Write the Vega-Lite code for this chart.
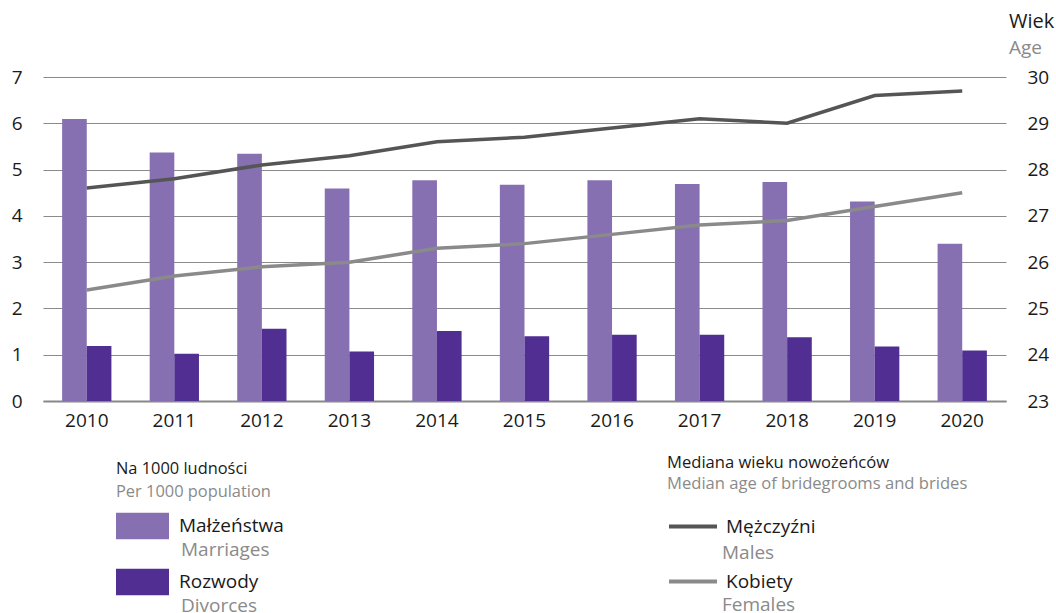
{
  "$schema": "https://vega.github.io/schema/vega-lite/v6.json",
  "width": 963,
  "height": 324,
  "autosize": {"type": "none"},
  "padding": {"left": 43, "top": 77, "right": 50, "bottom": 212},
  "background": "white",
  "config": {
    "font": "Open Sans",
    "view": {"stroke": null},
    "legend": {"padding": 0, "orient": "none", "direction": "vertical", "titleLimit": 0, "labelLimit": 0}
  },
  "title": {
    "text": "Wiek",
    "subtitle": "Age",
    "anchor": "start",
    "frame": "group",
    "dx": 966,
    "fontSize": 20,
    "fontWeight": "normal",
    "color": "#1a1a1a",
    "subtitleColor": "#8a8a8a",
    "subtitleFontSize": 19,
    "subtitlePadding": 7,
    "offset": 10
  },
  "datasets": {
    "rates": [
      {"year": "2010", "series": "Małżeństwa", "series_en": "Marriages", "value": 6.09},
      {"year": "2010", "series": "Rozwody", "series_en": "Divorces", "value": 1.19},
      {"year": "2011", "series": "Małżeństwa", "series_en": "Marriages", "value": 5.37},
      {"year": "2011", "series": "Rozwody", "series_en": "Divorces", "value": 1.02},
      {"year": "2012", "series": "Małżeństwa", "series_en": "Marriages", "value": 5.34},
      {"year": "2012", "series": "Rozwody", "series_en": "Divorces", "value": 1.56},
      {"year": "2013", "series": "Małżeństwa", "series_en": "Marriages", "value": 4.59},
      {"year": "2013", "series": "Rozwody", "series_en": "Divorces", "value": 1.07},
      {"year": "2014", "series": "Małżeństwa", "series_en": "Marriages", "value": 4.77},
      {"year": "2014", "series": "Rozwody", "series_en": "Divorces", "value": 1.51},
      {"year": "2015", "series": "Małżeństwa", "series_en": "Marriages", "value": 4.67},
      {"year": "2015", "series": "Rozwody", "series_en": "Divorces", "value": 1.40},
      {"year": "2016", "series": "Małżeństwa", "series_en": "Marriages", "value": 4.77},
      {"year": "2016", "series": "Rozwody", "series_en": "Divorces", "value": 1.43},
      {"year": "2017", "series": "Małżeństwa", "series_en": "Marriages", "value": 4.69},
      {"year": "2017", "series": "Rozwody", "series_en": "Divorces", "value": 1.43},
      {"year": "2018", "series": "Małżeństwa", "series_en": "Marriages", "value": 4.73},
      {"year": "2018", "series": "Rozwody", "series_en": "Divorces", "value": 1.38},
      {"year": "2019", "series": "Małżeństwa", "series_en": "Marriages", "value": 4.31},
      {"year": "2019", "series": "Rozwody", "series_en": "Divorces", "value": 1.18},
      {"year": "2020", "series": "Małżeństwa", "series_en": "Marriages", "value": 3.40},
      {"year": "2020", "series": "Rozwody", "series_en": "Divorces", "value": 1.09}
    ],
    "ages": [
      {"year": "2010", "series": "Mężczyźni", "series_en": "Males", "age": 27.6},
      {"year": "2011", "series": "Mężczyźni", "series_en": "Males", "age": 27.8},
      {"year": "2012", "series": "Mężczyźni", "series_en": "Males", "age": 28.1},
      {"year": "2013", "series": "Mężczyźni", "series_en": "Males", "age": 28.3},
      {"year": "2014", "series": "Mężczyźni", "series_en": "Males", "age": 28.6},
      {"year": "2015", "series": "Mężczyźni", "series_en": "Males", "age": 28.7},
      {"year": "2016", "series": "Mężczyźni", "series_en": "Males", "age": 28.9},
      {"year": "2017", "series": "Mężczyźni", "series_en": "Males", "age": 29.1},
      {"year": "2018", "series": "Mężczyźni", "series_en": "Males", "age": 29.0},
      {"year": "2019", "series": "Mężczyźni", "series_en": "Males", "age": 29.6},
      {"year": "2020", "series": "Mężczyźni", "series_en": "Males", "age": 29.7},
      {"year": "2010", "series": "Kobiety", "series_en": "Females", "age": 25.4},
      {"year": "2011", "series": "Kobiety", "series_en": "Females", "age": 25.7},
      {"year": "2012", "series": "Kobiety", "series_en": "Females", "age": 25.9},
      {"year": "2013", "series": "Kobiety", "series_en": "Females", "age": 26.0},
      {"year": "2014", "series": "Kobiety", "series_en": "Females", "age": 26.3},
      {"year": "2015", "series": "Kobiety", "series_en": "Females", "age": 26.4},
      {"year": "2016", "series": "Kobiety", "series_en": "Females", "age": 26.6},
      {"year": "2017", "series": "Kobiety", "series_en": "Females", "age": 26.8},
      {"year": "2018", "series": "Kobiety", "series_en": "Females", "age": 26.9},
      {"year": "2019", "series": "Kobiety", "series_en": "Females", "age": 27.2},
      {"year": "2020", "series": "Kobiety", "series_en": "Females", "age": 27.5}
    ]
  },
  "layer": [
    {
      "data": {"name": "rates"},
      "mark": {"type": "bar"},
      "encoding": {
        "x": {
          "field": "year", "type": "ordinal",
          "scale": {"paddingInner": 0.437, "paddingOuter": 0.2185},
          "axis": {
            "title": null, "labelAngle": 0, "ticks": false, "grid": false,
            "domain": true, "domainColor": "#888888", "domainWidth": 2,
            "labelFontSize": 19, "labelColor": "#1a1a1a", "labelPadding": 10
          }
        },
        "xOffset": {"field": "series", "sort": ["Małżeństwa", "Rozwody"]},
        "y": {
          "field": "value", "type": "quantitative",
          "scale": {"domain": [0, 7], "nice": false},
          "axis": {
            "title": null, "values": [0, 1, 2, 3, 4, 5, 6, 7], "ticks": false, "domain": false,
            "grid": true, "gridColor": "#8a8a8a", "gridWidth": 1.2,
            "labelFontSize": 19, "labelColor": "#1a1a1a", "labelPadding": 21
          }
        },
        "color": {
          "field": "series", "type": "nominal",
          "scale": {"domain": ["Małżeństwa", "Rozwody"], "range": ["#8770b2", "#512e91"]},
          "legend": {
            "legendX": 73, "legendY": 384,
            "title": "Na 1000 ludności", "titleFontSize": 16.4, "titleFontWeight": "normal",
            "titleColor": "#1a1a1a", "titlePadding": 22,
            "symbolType": "M-1,-0.5H1V0.5H-1Z", "symbolSize": 2809, "symbolStrokeWidth": 0,
            "labelFontSize": 19, "labelColor": "#1a1a1a", "labelOffset": 10, "rowPadding": 16
          }
        }
      }
    },
    {
      "data": {"name": "ages"},
      "mark": {"type": "line", "strokeWidth": 3.5},
      "encoding": {
        "x": {"field": "year", "type": "ordinal"},
        "y": {
          "field": "age", "type": "quantitative",
          "scale": {"domain": [23, 30], "nice": false},
          "axis": {
            "orient": "right", "title": null, "values": [23, 24, 25, 26, 27, 28, 29, 30],
            "ticks": false, "domain": false, "grid": false,
            "labelFontSize": 19, "labelColor": "#1a1a1a", "labelPadding": 21
          }
        },
        "color": {
          "field": "series", "type": "nominal",
          "scale": {"domain": ["Mężczyźni", "Kobiety"], "range": ["#555555", "#8a8a8a"]},
          "legend": {
            "legendX": 624, "legendY": 378,
            "title": "Mediana wieku nowożeńców", "titleFontSize": 16.6, "titleFontWeight": "normal",
            "titleColor": "#1a1a1a", "titlePadding": 29,
            "symbolType": "stroke", "symbolSize": 2304, "symbolStrokeWidth": 4,
            "labelFontSize": 19, "labelColor": "#1a1a1a", "labelOffset": 7, "rowPadding": 19
          }
        }
      }
    },
    {
      "data": {"name": "rates"},
      "mark": {"type": "point", "opacity": 0},
      "encoding": {
        "color": {
          "field": "series_en", "type": "nominal",
          "scale": {"domain": ["Marriages", "Divorces"], "range": ["#8770b2", "#512e91"]},
          "legend": {
            "legendX": 73, "legendY": 407,
            "title": "Per 1000 population", "titleFontSize": 16.4, "titleFontWeight": "normal",
            "titleColor": "#8a8a8a", "titlePadding": 22,
            "symbolType": "M-1,-0.5H1V0.5H-1Z", "symbolSize": 2809, "symbolOpacity": 0,
            "labelFontSize": 19, "labelColor": "#8a8a8a", "labelOffset": 10, "rowPadding": 15
          }
        }
      }
    },
    {
      "data": {"name": "ages"},
      "mark": {"type": "point", "opacity": 0},
      "encoding": {
        "color": {
          "field": "series_en", "type": "nominal",
          "scale": {"domain": ["Males", "Females"], "range": ["#555555", "#8a8a8a"]},
          "legend": {
            "legendX": 624, "legendY": 399,
            "title": "Median age of bridegrooms and brides", "titleFontSize": 16.6, "titleFontWeight": "normal",
            "titleColor": "#8a8a8a", "titlePadding": 36,
            "symbolType": "stroke", "symbolSize": 2304, "symbolOpacity": 0, "symbolStrokeWidth": 0,
            "labelFontSize": 19, "labelColor": "#8a8a8a", "labelOffset": 7, "rowPadding": 18
          }
        }
      }
    }
  ],
  "resolve": {"scale": {"y": "independent", "color": "independent"}}
}
